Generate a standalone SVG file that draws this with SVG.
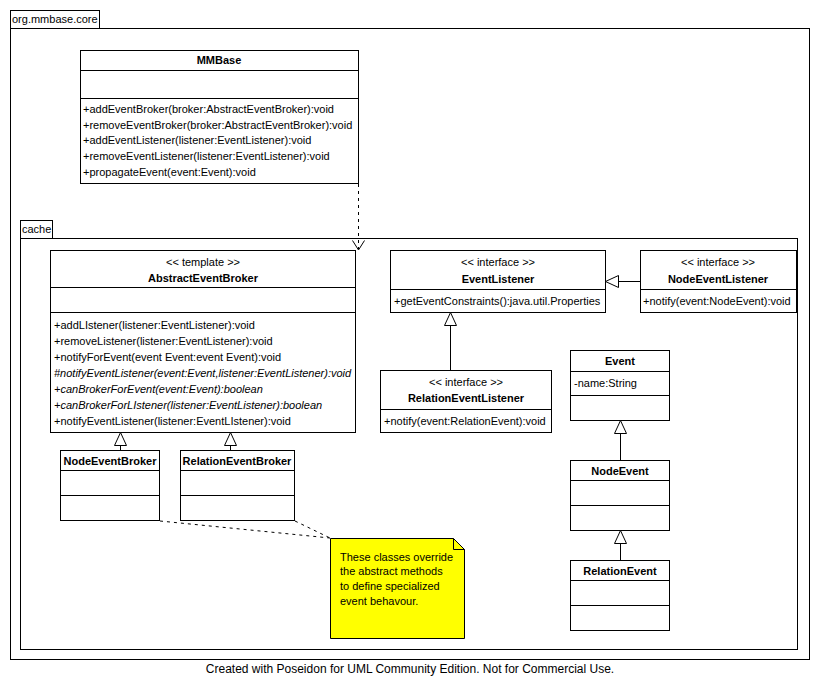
<svg xmlns="http://www.w3.org/2000/svg" width="820" height="692" viewBox="0 0 820 692">
<style>
text{font-family:"Liberation Sans",Arial,sans-serif;font-size:11px;fill:#000}
.b{font-weight:bold}
.i{font-style:italic}
.c{text-anchor:middle}
.box{fill:#fff;stroke:#000;stroke-width:1}
.ln{stroke:#000;stroke-width:1;fill:none}
.dash{stroke:#000;stroke-width:1;fill:none;stroke-dasharray:3,4}
.tri{fill:#fff;stroke:#000;stroke-width:1}
.foot{font-size:12px}
</style>
<rect x="0" y="0" width="820" height="692" fill="#fff"/>
<g id="pkg-core">
<rect class="box" x="10.5" y="10.5" width="89" height="18"/>
<rect class="box" x="10.5" y="28.5" width="799" height="631"/>
<text x="12" y="23">org.mmbase.core</text>
</g>
<g id="pkg-cache">
<rect class="box" x="20.5" y="220.5" width="32" height="18"/>
<rect class="box" x="20.5" y="238.5" width="777" height="411"/>
<text x="22" y="233">cache</text>
</g>
<g id="MMBase">
<rect class="box" x="80.5" y="50.5" width="278" height="133"/>
<path class="ln" d="M80.5 70.5H358.5M80.5 98.5H358.5"/>
<text class="b c" x="219" y="64">MMBase</text>
<text x="83" y="113">+addEventBroker(broker:AbstractEventBroker):void</text>
<text x="83" y="129">+removeEventBroker(broker:AbstractEventBroker):void</text>
<text x="83" y="144">+addEventListener(listener:EventListener):void</text>
<text x="83" y="160">+removeEventListener(listener:EventListener):void</text>
<text x="83" y="176">+propagateEvent(event:Event):void</text>
</g>
<g id="AbstractEventBroker">
<rect class="box" x="50.5" y="250.5" width="305" height="182"/>
<path class="ln" d="M50.5 287.5H355.5M50.5 312.5H355.5"/>
<text class="c" x="203" y="266">&lt;&lt; template &gt;&gt;</text>
<text class="b c" x="203" y="282">AbstractEventBroker</text>
<text x="54" y="329">+addLIstener(listener:EventListener):void</text>
<text x="54" y="345">+removeListener(listener:EventListener):void</text>
<text x="54" y="361">+notifyForEvent(event Event:event Event):void</text>
<text class="i" x="54" y="377">#notifyEventListener(event:Event,listener:EventListener):void</text>
<text class="i" x="54" y="393">+canBrokerForEvent(event:Event):boolean</text>
<text class="i" x="54" y="409">+canBrokerForLIstener(listener:EventListener):boolean</text>
<text x="54" y="425">+notifyEventListener(listener:EventLIstener):void</text>
</g>
<g id="NodeEventBroker">
<rect class="box" x="60.5" y="450.5" width="99" height="70"/>
<path class="ln" d="M60.5 470.5H159.5M60.5 495.5H159.5"/>
<text class="b c" x="110" y="465">NodeEventBroker</text>
</g>
<g id="RelationEventBroker">
<rect class="box" x="180.5" y="450.5" width="114" height="70"/>
<path class="ln" d="M180.5 470.5H294.5M180.5 495.5H294.5"/>
<text class="b c" x="237" y="465">RelationEventBroker</text>
</g>
<g id="EventListener">
<rect class="box" x="390.5" y="250.5" width="215" height="62"/>
<path class="ln" d="M390.5 289.5H605.5"/>
<text class="c" x="498" y="266">&lt;&lt; interface &gt;&gt;</text>
<text class="b c" x="498" y="283">EventListener</text>
<text x="394" y="305">+getEventConstraints():java.util.Properties</text>
</g>
<g id="NodeEventListener">
<rect class="box" x="640.5" y="250.5" width="156" height="62"/>
<path class="ln" d="M640.5 289.5H796.5"/>
<text class="c" x="718" y="266">&lt;&lt; interface &gt;&gt;</text>
<text class="b c" x="718" y="283">NodeEventListener</text>
<text x="643" y="305">+notify(event:NodeEvent):void</text>
</g>
<g id="RelationEventListener">
<rect class="box" x="380.5" y="370.5" width="171" height="62"/>
<path class="ln" d="M380.5 409.5H551.5"/>
<text class="c" x="466" y="386">&lt;&lt; interface &gt;&gt;</text>
<text class="b c" x="466" y="402">RelationEventListener</text>
<text x="384" y="425">+notify(event:RelationEvent):void</text>
</g>
<g id="Event">
<rect class="box" x="570.5" y="350.5" width="99" height="70"/>
<path class="ln" d="M570.5 371.5H669.5M570.5 395.5H669.5"/>
<text class="b c" x="620" y="365">Event</text>
<text x="574" y="387">-name:String</text>
</g>
<g id="NodeEvent">
<rect class="box" x="570.5" y="460.5" width="99" height="70"/>
<path class="ln" d="M570.5 480.5H669.5M570.5 505.5H669.5"/>
<text class="b c" x="620" y="475">NodeEvent</text>
</g>
<g id="RelationEvent">
<rect class="box" x="570.5" y="560.5" width="99" height="70"/>
<path class="ln" d="M570.5 580.5H669.5M570.5 605.5H669.5"/>
<text class="b c" x="620" y="575">RelationEvent</text>
</g>
<g id="Note">
<path d="M330.5 538.5H453.5L464.5 549.5V638.5H330.5Z" fill="#ffff00" stroke="#000"/>
<path class="ln" d="M453.5 538.5V549.5H464.5"/>
<text x="340" y="561">These classes override</text>
<text x="340" y="575">the abstract methods</text>
<text x="340" y="590">to define specialized</text>
<text x="340" y="605">event behavour.</text>
</g>
<g id="connectors">
<path class="dash" d="M358.5 184V249"/>
<path class="ln" d="M352.5 240.5L358.5 250L364.5 240.5"/>
<path class="dash" d="M160 521L330 538"/>
<path class="dash" d="M295 521L330 538"/>
<path class="ln" d="M120.5 445V450"/>
<path class="tri" d="M120.5 432.5L126.5 445.5H114.5Z"/>
<path class="ln" d="M230.5 445V450"/>
<path class="tri" d="M230.5 432.5L236.5 445.5H224.5Z"/>
<path class="ln" d="M618 281.5H640"/>
<path class="tri" d="M605.5 281.5L618.5 275.5V287.5Z"/>
<path class="ln" d="M450.5 325V370"/>
<path class="tri" d="M450.5 312.5L456.5 325.5H444.5Z"/>
<path class="ln" d="M620.5 433V460"/>
<path class="tri" d="M620.5 420.5L626.5 433.5H614.5Z"/>
<path class="ln" d="M620.5 543V560"/>
<path class="tri" d="M620.5 530.5L626.5 543.5H614.5Z"/>
</g>
<text class="c foot" x="410" y="673">Created with Poseidon for UML Community Edition. Not for Commercial Use.</text>
</svg>
